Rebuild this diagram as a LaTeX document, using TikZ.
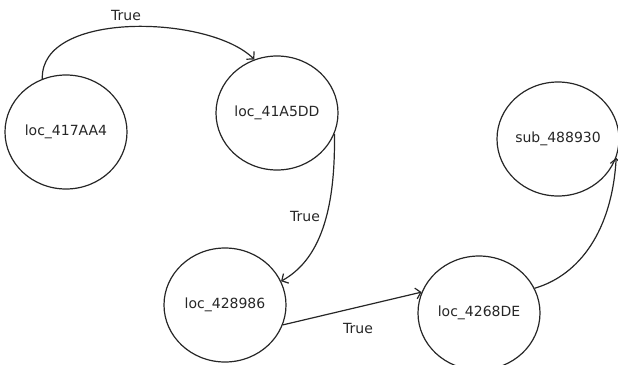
\documentclass[tikz,border=0pt]{standalone}
\usepackage{fontspec}
\setmainfont{DejaVu Sans}
\usepackage{tikz}
\usetikzlibrary{arrows.meta,shapes.geometric}
\usepackage{xcolor}
\definecolor{FlowInk}{HTML}{262626}

\tikzset{
    block/.style={draw=FlowInk,ellipse,line width=1.2pt,minimum width=122pt,minimum height=114pt,inner sep=0pt,
        font=\fontsize{14}{16}\selectfont,text=FlowInk},
    flow/.style={draw=FlowInk,line width=1.2pt,-{Straight Barb[length=5pt,width=11pt,line width=1.2pt]}},
    cond/.style={font=\fontsize{14}{16}\selectfont,text=FlowInk,inner sep=1pt}
}

\begin{document}
\begin{tikzpicture}[x=1pt,y=-1pt]
    \useasboundingbox (0,0) rectangle (618,364);
    \node[block] (A) at (66,132) {loc\_417AA4};
    \node[block] (B) at (277,113) {loc\_41A5DD};
    \node[block] (C) at (225,305) {loc\_428986};
    \node[block] (D) at (479,313) {loc\_4268DE};
    \node[block] (E) at (558,139) {sub\_488930};
    \draw[flow] (A.114) .. controls (40,10) and (210,15) .. (B.113);
    \draw[flow] (B.340) .. controls (336,230) and (310,265) .. (C.23);
    \draw[flow] (C.341) -- (D.160);
    \draw[flow] (D.24) .. controls (580,275) and (612,230) .. (E.342);
    \node[cond] (tAB) at (126,15) {True};
    \node[cond] (tBC) at (305,216) {True};
    \node[cond] (tCD) at (358,328) {True};
\end{tikzpicture}
\end{document}
